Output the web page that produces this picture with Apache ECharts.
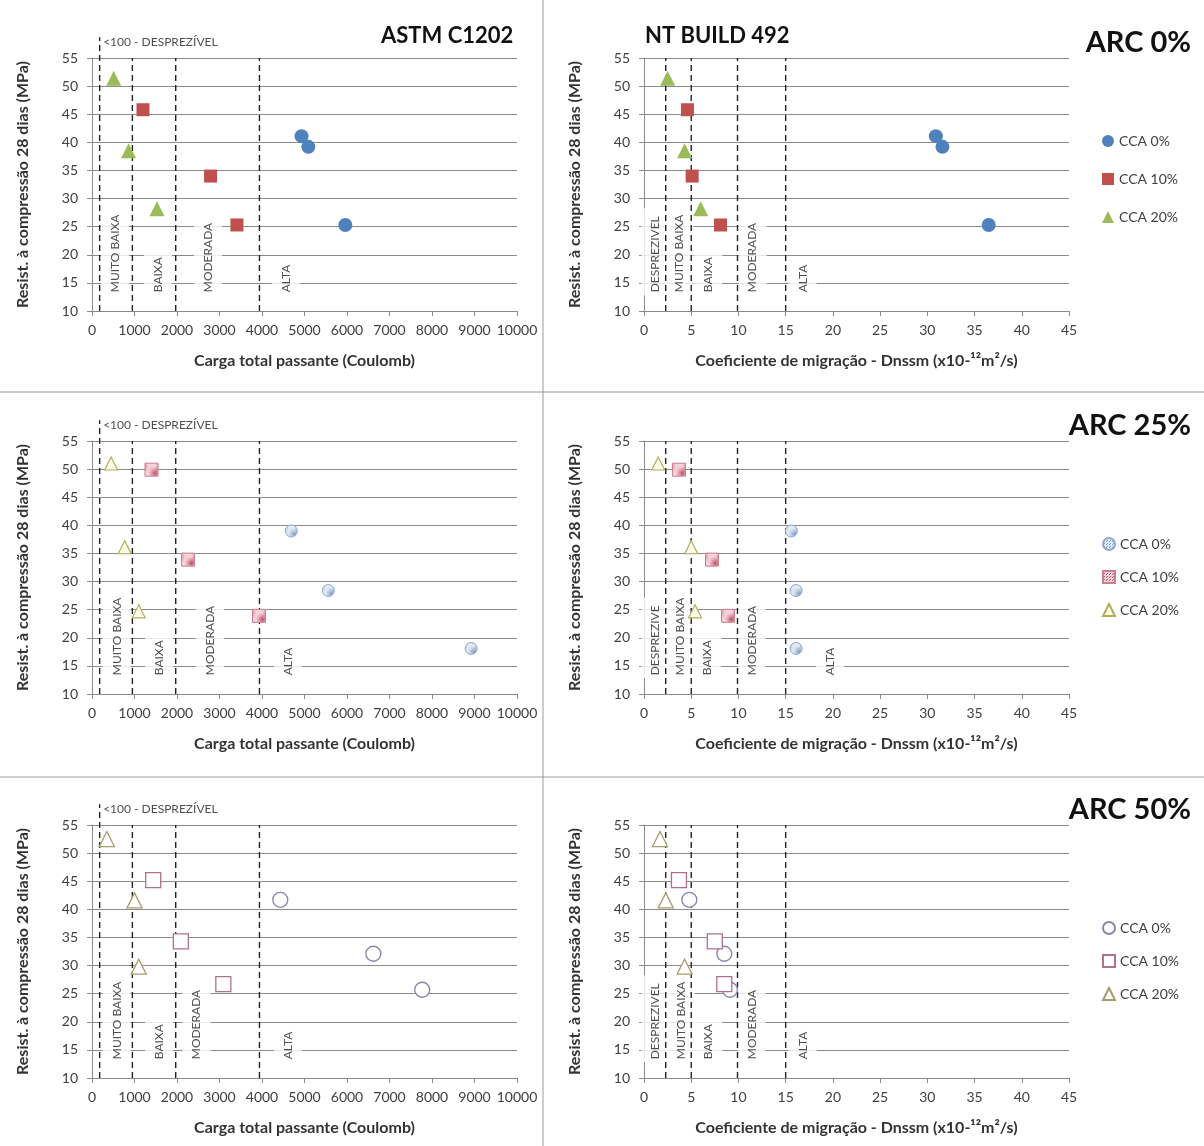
<!DOCTYPE html>
<html><head><meta charset="utf-8">
<script src="https://cdn.jsdelivr.net/npm/echarts@6/dist/echarts.min.js"></script>
<style>html,body{margin:0;padding:0;background:#fff}#c{width:1204px;height:1146px}</style>
</head><body><div id="c"></div>
<script>
// ---------------- DATA ----------------
const rowTitles = ['ARC 0%', 'ARC 25%', 'ARC 50%'];
const seriesNames = ['CCA 0%', 'CCA 10%', 'CCA 20%'];
const colTitles = ['ASTM C1202', 'NT BUILD 492'];

// Resistência à compressão 28 dias (MPa)
const arc0_cca0_mpa  = [41.1, 39.2, 25.3];
const arc0_cca10_mpa = [45.8, 34.0, 25.3];
const arc0_cca20_mpa = [51.4, 38.5, 28.2];
const arc25_cca0_mpa  = [39.0, 28.4, 18.1];
const arc25_cca10_mpa = [49.9, 33.9, 23.9];
const arc25_cca20_mpa = [51.0, 36.1, 24.7];
const arc50_cca0_mpa  = [41.7, 32.1, 25.7];
const arc50_cca10_mpa = [45.2, 34.3, 26.7];
const arc50_cca20_mpa = [52.5, 41.6, 29.8];

// Carga total passante (Coulomb)
const arc0_cca0_coulomb  = [4930, 5090, 5960];
const arc0_cca10_coulomb = [1200, 2790, 3410];
const arc0_cca20_coulomb = [510, 860, 1530];
const arc25_cca0_coulomb  = [4690, 5560, 8920];
const arc25_cca10_coulomb = [1400, 2260, 3930];
const arc25_cca20_coulomb = [450, 770, 1100];
const arc50_cca0_coulomb  = [4430, 6620, 7770];
const arc50_cca10_coulomb = [1440, 2090, 3090];
const arc50_cca20_coulomb = [350, 1000, 1100];

// Coeficiente de migração Dnssm (x10-12 m2/s)
const arc0_cca0_dnssm  = [30.9, 31.6, 36.5];
const arc0_cca10_dnssm = [4.6, 5.1, 8.1];
const arc0_cca20_dnssm = [2.5, 4.3, 6.0];
const arc25_cca0_dnssm  = [15.6, 16.1, 16.1];
const arc25_cca10_dnssm = [3.7, 7.2, 8.9];
const arc25_cca20_dnssm = [1.5, 5.0, 5.4];
const arc50_cca0_dnssm  = [4.8, 8.5, 9.1];
const arc50_cca10_dnssm = [3.7, 7.5, 8.5];
const arc50_cca20_dnssm = [1.7, 2.3, 4.3];

// Class limits (dashed lines)
const astmLimits = [180, 950, 1970, 3940];
const ntLimits = [2.3, 5, 9.9, 15];
const astmTopLabel = '<100 - DESPREZÍVEL';
// Zone labels
const astmZones = ['MUITO BAIXA', 'BAIXA', 'MODERADA', 'ALTA'];
const astmZoneX_arc0  = [540, 1550, 2730, 4560];
const astmZoneX_arc25 = [580, 1580, 2780, 4610];
const astmZoneX_arc50 = [580, 1580, 2460, 4610];
const ntZones_arc0  = ['DESPREZIVEL', 'MUITO BAIXA', 'BAIXA', 'MODERADA', 'ALTA'];
const ntZones_arc25 = ['DESPREZIVE', 'MUITO BAIXA', 'BAIXA', 'MODERADA', 'ALTA'];
const ntZones_arc50 = ['DESPREZIVEL', 'MUITO BAIXA', 'BAIXA', 'MODERADA', 'ALTA'];
const ntZoneX_arc0  = [1.2, 3.75, 6.8, 11.5, 16.8];
const ntZoneX_arc25 = [1.2, 3.8, 6.7, 11.4, 19.7];
const ntZoneX_arc50 = [1.2, 3.9, 6.8, 11.4, 16.8];
const zoneLabelY = 12.8;

const yMin = 10, yMax = 55, yStep = 5;
const astmMax = 10000, astmStep = 1000;
const ntMax = 45, ntStep = 5;

// ---------------- BUILD ----------------
const FONT = 'Lato, "Open Sans", sans-serif';
const rows = [
  { mpa: [arc0_cca0_mpa, arc0_cca10_mpa, arc0_cca20_mpa],
    cou: [arc0_cca0_coulomb, arc0_cca10_coulomb, arc0_cca20_coulomb],
    dn:  [arc0_cca0_dnssm, arc0_cca10_dnssm, arc0_cca20_dnssm],
    azx: astmZoneX_arc0, nz: ntZones_arc0, nzx: ntZoneX_arc0 },
  { mpa: [arc25_cca0_mpa, arc25_cca10_mpa, arc25_cca20_mpa],
    cou: [arc25_cca0_coulomb, arc25_cca10_coulomb, arc25_cca20_coulomb],
    dn:  [arc25_cca0_dnssm, arc25_cca10_dnssm, arc25_cca20_dnssm],
    azx: astmZoneX_arc25, nz: ntZones_arc25, nzx: ntZoneX_arc25 },
  { mpa: [arc50_cca0_mpa, arc50_cca10_mpa, arc50_cca20_mpa],
    cou: [arc50_cca0_coulomb, arc50_cca10_coulomb, arc50_cca20_coulomb],
    dn:  [arc50_cca0_dnssm, arc50_cca10_dnssm, arc50_cca20_dnssm],
    azx: astmZoneX_arc50, nz: ntZones_arc50, nzx: ntZoneX_arc50 }
];

function dotPattern(bg, dot) {
  const cv = document.createElement('canvas');
  cv.width = 3; cv.height = 3;
  const g = cv.getContext('2d');
  g.fillStyle = bg; g.fillRect(0, 0, 3, 3);
  g.fillStyle = dot; g.fillRect(0, 0, 1, 1); g.fillRect(1, 2, 1, 1);
  return { image: cv, repeat: 'repeat' };
}

const symbols = ['circle', 'rect', 'triangle'];
const styles = [
  [ {size: 14, item: {color: '#4F81BD'}},
    {size: 13, item: {color: '#C0504D'}},
    {size: 15, item: {color: '#9BBB59'}} ],
  [ {size: 12, item: {color: dotPattern('#e3eaf4', '#7f9bc6'), borderColor: '#8ea9cf', borderWidth: 1}},
    {size: 13, item: {color: dotPattern('#f6d3da', '#c0506a'), borderColor: '#c87f90', borderWidth: 1}},
    {size: 13, item: {color: '#fbfbea', borderColor: '#b5ad5a', borderWidth: 1.2}} ],
  [ {size: 15, item: {color: '#ffffff', borderColor: '#8886b0', borderWidth: 1.3}},
    {size: 15, item: {color: '#ffffff', borderColor: '#b0708e', borderWidth: 1.3}},
    {size: 15, item: {color: '#ffffff', borderColor: '#a69c6e', borderWidth: 1.3}} ]
];

const rowTops = [58, 441, 825];
const H = 253;
const colLeft = [92, 644];
const W = 425;
const legendTops = [129, 532, 916];
const legendGaps = [24, 19, 19];

const grids = [], xAxes = [], yAxes = [], series = [], legends = [], titles = [];
const axisColor = '#8a8a8a';
const labelColor = '#404040';

rows.forEach((row, r) => {
  for (let c = 0; c < 2; c++) {
    const gi = r * 2 + c;
    grids.push({ left: colLeft[c], top: rowTops[r], width: W, height: H });
    xAxes.push({
      type: 'value', gridIndex: gi, min: 0, max: c === 0 ? astmMax : ntMax,
      interval: c === 0 ? astmStep : ntStep,
      axisLine: { show: true, lineStyle: { color: axisColor } },
      axisTick: { show: true, length: 5, lineStyle: { color: axisColor } },
      splitLine: { show: false },
      axisLabel: { color: labelColor, fontSize: 14, margin: 12, fontFamily: FONT,
        formatter: v => String(v) },
      name: c === 0 ? 'Carga total passante (Coulomb)' : 'Coeficiente de migração - Dnssm (x10-¹²m²/s)',
      nameLocation: 'middle', nameGap: 42,
      nameTextStyle: { fontSize: 16, fontWeight: 'bold', color: '#333', fontFamily: FONT }
    });
    yAxes.push({
      type: 'value', gridIndex: gi, min: yMin, max: yMax, interval: yStep,
      axisLine: { show: true, lineStyle: { color: axisColor } },
      axisTick: { show: true, length: 5, lineStyle: { color: axisColor } },
      splitLine: { show: true, lineStyle: { color: axisColor, width: 1 } },
      axisLabel: { color: labelColor, fontSize: 14, margin: 14, fontFamily: FONT },
      name: 'Resist. à compressão 28 dias (MPa)',
      nameLocation: 'middle', nameGap: 61,
      nameTextStyle: { fontSize: 16, fontWeight: 'bold', color: '#333', fontFamily: FONT }
    });

    // zone labels (white boxes break the gridlines)
    const zNames = c === 0 ? astmZones : row.nz;
    const zX = c === 0 ? row.azx : row.nzx;
    series.push({
      type: 'scatter', xAxisIndex: gi, yAxisIndex: gi, silent: true, z: 2,
      symbolSize: 1, itemStyle: { color: 'rgba(0,0,0,0)' },
      data: zNames.map((n, i) => ({ name: n, value: [zX[i], zoneLabelY] })),
      label: { show: true, formatter: '{b}', position: 'inside', rotate: 90,
        align: 'left', verticalAlign: 'middle', fontSize: 12, color: '#222',
        fontFamily: FONT, backgroundColor: '#ffffff', padding: [8, 8, 8, 3] }
    });

    // dashed class limits
    const lims = c === 0 ? astmLimits : ntLimits;
    lims.forEach((v, i) => {
      const top = (c === 0 && i === 0) ? 58.7 : yMax;
      series.push({
        type: 'line', xAxisIndex: gi, yAxisIndex: gi, silent: true, z: 3, clip: false,
        symbol: 'none', data: [[v, yMin], [v, top]],
        lineStyle: { color: '#222', width: 1.4, type: [6, 4] }
      });
    });
    if (c === 0) {
      series.push({
        type: 'scatter', xAxisIndex: gi, yAxisIndex: gi, silent: true, z: 3, clip: false,
        symbolSize: 1, itemStyle: { color: 'rgba(0,0,0,0)' },
        data: [{ name: astmTopLabel, value: [astmLimits[0], 57.9] }],
        label: { show: true, formatter: '{b}', position: 'right', distance: 3,
          fontSize: 12, color: '#222', fontFamily: FONT }
      });
    }

    // data series
    for (let k = 0; k < 3; k++) {
      const xs = c === 0 ? row.cou[k] : row.dn[k];
      const ys = row.mpa[k];
      series.push({
        type: 'scatter', name: seriesNames[k] + '|' + r,
        xAxisIndex: gi, yAxisIndex: gi, z: 5,
        symbol: symbols[k], symbolSize: styles[r][k].size,
        itemStyle: Object.assign({ opacity: 1 }, styles[r][k].item),
        data: xs.map((x, i) => [x, ys[i]])
      });
    }
  }
  legends.push({
    orient: 'vertical', left: 1097, top: legendTops[r], itemGap: legendGaps[r],
    itemWidth: 12, itemHeight: 12,
    data: seriesNames.map(n => n + '|' + r),
    formatter: n => n.split('|')[0],
    textStyle: { fontSize: 14, color: labelColor, fontFamily: FONT }
  });
  titles.push({ text: rowTitles[r], right: 8, top: rowTops[r] - 35,
    textStyle: { fontSize: 29, fontWeight: 'bold', color: '#111', fontFamily: FONT } });
});
titles.push({ text: colTitles[0], left: 376, top: 20,
  textStyle: { fontSize: 22, fontWeight: 'bold', color: '#111', fontFamily: FONT } });
titles.push({ text: colTitles[1], left: 640, top: 20,
  textStyle: { fontSize: 22, fontWeight: 'bold', color: '#111', fontFamily: FONT } });

const chart = echarts.init(document.getElementById('c'), null, { renderer: 'canvas' });
chart.setOption({
  animation: false,
  backgroundColor: '#ffffff',
  textStyle: { fontFamily: FONT },
  title: titles,
  legend: legends,
  grid: grids,
  xAxis: xAxes,
  yAxis: yAxes,
  series: series,
  graphic: [
    { type: 'line', shape: { x1: 543, y1: 0, x2: 543, y2: 1146 }, style: { stroke: '#9a9a9a', lineWidth: 1 } },
    { type: 'line', shape: { x1: 0, y1: 392, x2: 1204, y2: 392 }, style: { stroke: '#9a9a9a', lineWidth: 1 } },
    { type: 'line', shape: { x1: 0, y1: 777, x2: 1204, y2: 777 }, style: { stroke: '#9a9a9a', lineWidth: 1 } }
  ]
});
</script></body></html>
